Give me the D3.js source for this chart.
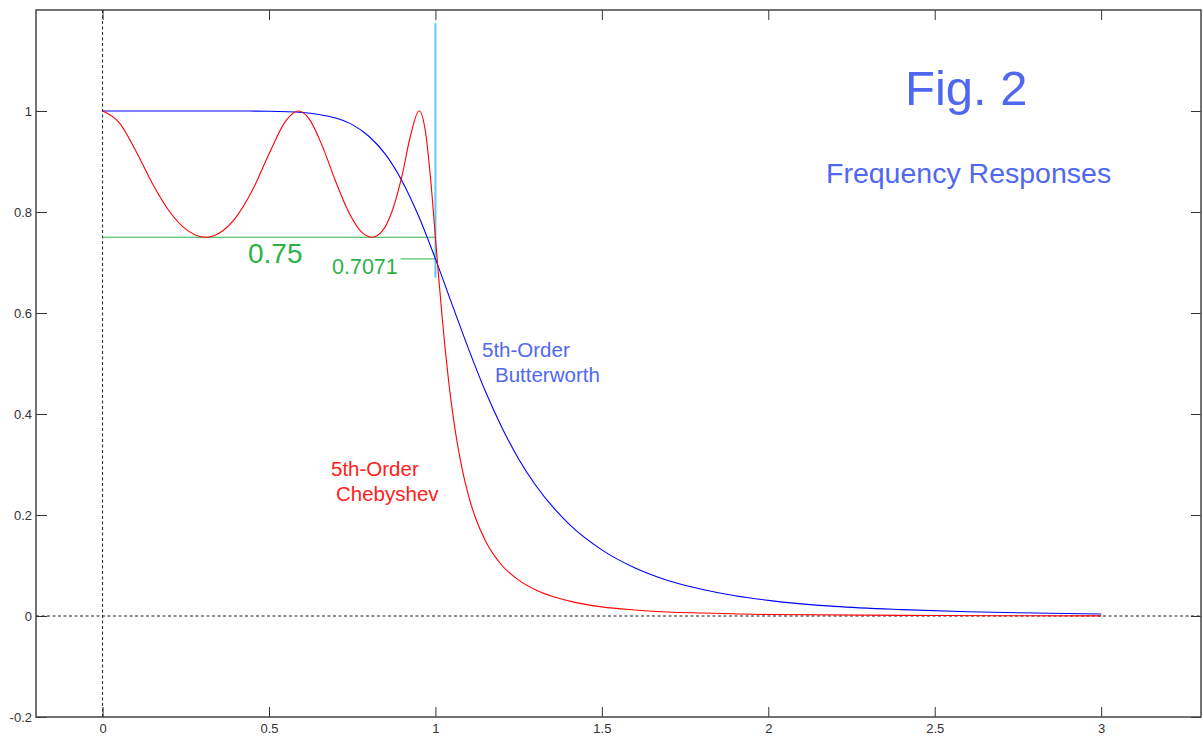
<!DOCTYPE html>
<html>
<head>
<meta charset="utf-8">
<script src="https://cdn.jsdelivr.net/npm/d3@7"></script>
<style>
  body { margin: 0; background: #fff; }
  svg { display: block; font-family: "Liberation Sans", Arial, sans-serif; }
</style>
</head>
<body>
<script>
// values
var xTicks = [0, 0.5, 1, 1.5, 2, 2.5, 3];
var yTicks = [-0.2, 0, 0.2, 0.4, 0.6, 0.8, 1];

var chebyX = [0, 0.05, 0.1, 0.15, 0.2, 0.25, 0.309, 0.35, 0.4, 0.45, 0.5, 0.55, 0.588,
              0.62, 0.66, 0.7, 0.74, 0.78, 0.809, 0.84, 0.87, 0.9, 0.925, 0.951, 0.97, 0.985,
              1.0, 1.01, 1.02, 1.03, 1.04, 1.05, 1.06, 1.08, 1.1, 1.12, 1.15, 1.2, 1.25, 1.3,
              1.35, 1.4, 1.5, 1.6, 1.7, 1.8, 2.0, 2.5, 3.0];
var chebyY = [1, 0.977, 0.921, 0.856, 0.802, 0.766, 0.75, 0.758, 0.789, 0.843, 0.915, 0.980, 1,
              0.985, 0.931, 0.861, 0.799, 0.759, 0.75, 0.762, 0.802, 0.873, 0.951, 1, 0.959, 0.869,
              0.75, 0.669, 0.593, 0.524, 0.463, 0.411, 0.365, 0.292, 0.237, 0.195, 0.149, 0.100, 0.071, 0.052,
              0.039, 0.030, 0.018, 0.012, 0.008, 0.006, 0.003, 0.001, 0.0003];

var buttX = [0, 0.2, 0.4, 0.5, 0.6, 0.65, 0.7, 0.75, 0.8, 0.85, 0.9, 0.95, 1.0, 1.05, 1.1,
             1.15, 1.2, 1.25, 1.3, 1.4, 1.5, 1.6, 1.7, 1.8, 1.9, 2.0, 2.2, 2.4, 2.6, 2.8, 3.0];
var buttY = [1, 1, 1, 0.9995, 0.997, 0.993, 0.986, 0.973, 0.950, 0.914, 0.861, 0.791, 0.7071, 0.617, 0.528,
             0.445, 0.373, 0.311, 0.260, 0.183, 0.131, 0.095, 0.070, 0.053, 0.040, 0.031, 0.019, 0.0126, 0.0084, 0.0058, 0.0041];

var rippleLevel = 0.75;
var halfPower = 0.7071;
var cutoff = 1;

var w = 1203;
var h = 737;
var plotL = 36, plotR = 1201, plotT = 10, plotB = 717;

var svg = d3.select("body")
			.append("svg")
			.attr("width", w)
			.attr("height", h);

var xScale = d3.scaleLinear()
				.domain([-0.2, 3.3])
				.range([plotL, plotR]);

var yScale = d3.scaleLinear()
				.domain([-0.2, 1.2])
				.range([plotB, plotT]);

// axes with inward ticks on all four sides
function styleAxis(g){
	g.attr("font-size", 13)
	 .attr("font-family", "Liberation Sans, Arial, sans-serif");
	g.selectAll(".tick line").attr("stroke", "#333");
	g.selectAll(".tick text").attr("fill", "#333");
	g.select(".domain").remove();
}

svg.append("g")
	.attr("transform", "translate(0," + plotB + ")")
	.call(d3.axisBottom(xScale).tickValues(xTicks).tickSize(-10).tickPadding(7)
			.tickFormat(function(d){ return String(d); }))
	.call(styleAxis);

svg.append("g")
	.attr("transform", "translate(0," + plotT + ")")
	.call(d3.axisTop(xScale).tickValues(xTicks).tickSize(-10).tickFormat(""))
	.call(styleAxis);

svg.append("g")
	.attr("transform", "translate(" + plotL + ",0)")
	.call(d3.axisLeft(yScale).tickValues(yTicks).tickSize(-11).tickPadding(4)
			.tickFormat(function(d){ return String(d); }))
	.call(styleAxis);

svg.append("g")
	.attr("transform", "translate(" + plotR + ",0)")
	.call(d3.axisRight(yScale).tickValues(yTicks).tickSize(-10).tickFormat(""))
	.call(styleAxis);

svg.append("rect")
	.attr("x", plotL)
	.attr("y", plotT)
	.attr("width", plotR - plotL)
	.attr("height", plotB - plotT)
	.attr("fill", "none")
	.attr("stroke", "#444")
	.attr("stroke-width", 1.5);

// dotted zero lines
svg.append("line")
	.attr("x1", xScale(0)).attr("x2", xScale(0))
	.attr("y1", plotT).attr("y2", plotB)
	.attr("stroke", "#222")
	.attr("stroke-dasharray", "3,2.5");

svg.append("line")
	.attr("x1", plotL).attr("x2", plotR)
	.attr("y1", yScale(0)).attr("y2", yScale(0))
	.attr("stroke", "#222")
	.attr("stroke-dasharray", "3,2.5");

// cutoff marker and ripple / half power levels
svg.append("line")
	.attr("x1", xScale(cutoff)).attr("x2", xScale(cutoff))
	.attr("y1", yScale(1.174)).attr("y2", yScale(0.67))
	.attr("stroke", "#5ccbf0")
	.attr("stroke-width", 2);

svg.append("line")
	.attr("x1", xScale(0)).attr("x2", xScale(cutoff))
	.attr("y1", yScale(rippleLevel)).attr("y2", yScale(rippleLevel))
	.attr("stroke", "#2db24a");

svg.append("line")
	.attr("x1", xScale(0.895)).attr("x2", xScale(cutoff))
	.attr("y1", yScale(halfPower)).attr("y2", yScale(halfPower))
	.attr("stroke", "#2db24a");

var line = d3.line()
			.x(function(d){ return xScale(d[0]); })
			.y(function(d){ return yScale(d[1]); })
			.curve(d3.curveMonotoneX);

svg.append("path")
	.datum(d3.zip(buttX, buttY))
	.attr("d", line)
	.attr("fill", "none")
	.attr("stroke", "#0000ff")
	.attr("stroke-width", 1.1);

svg.append("path")
	.datum(d3.zip(chebyX, chebyY))
	.attr("d", line)
	.attr("fill", "none")
	.attr("stroke", "#ff0000")
	.attr("stroke-width", 1.1);

// annotations
var labels = [
	{t: "0.75", x: 248, y: 263, s: 28, c: "#2db24a"},
	{t: "0.7071", x: 332, y: 274, s: 21.5, c: "#2db24a"},
	{t: "Fig. 2", x: 905, y: 105, s: 49, c: "#5068f0"},
	{t: "Frequency Responses", x: 826, y: 183, s: 28.5, c: "#5068f0"},
	{t: "5th-Order", x: 482, y: 357, s: 20.5, c: "#5068f0"},
	{t: "Butterworth", x: 495, y: 382, s: 20.5, c: "#5068f0"},
	{t: "5th-Order", x: 331, y: 476, s: 20.5, c: "#ff2020"},
	{t: "Chebyshev", x: 336, y: 501, s: 20.5, c: "#ff2020"}
];

svg.selectAll(".note")
	.data(labels)
	.enter()
	.append("text")
	.attr("class", "note")
	.attr("x", function(d){ return d.x; })
	.attr("y", function(d){ return d.y; })
	.attr("font-size", function(d){ return d.s + "px"; })
	.attr("fill", function(d){ return d.c; })
	.text(function(d){ return d.t; });
</script>
</body>
</html>
